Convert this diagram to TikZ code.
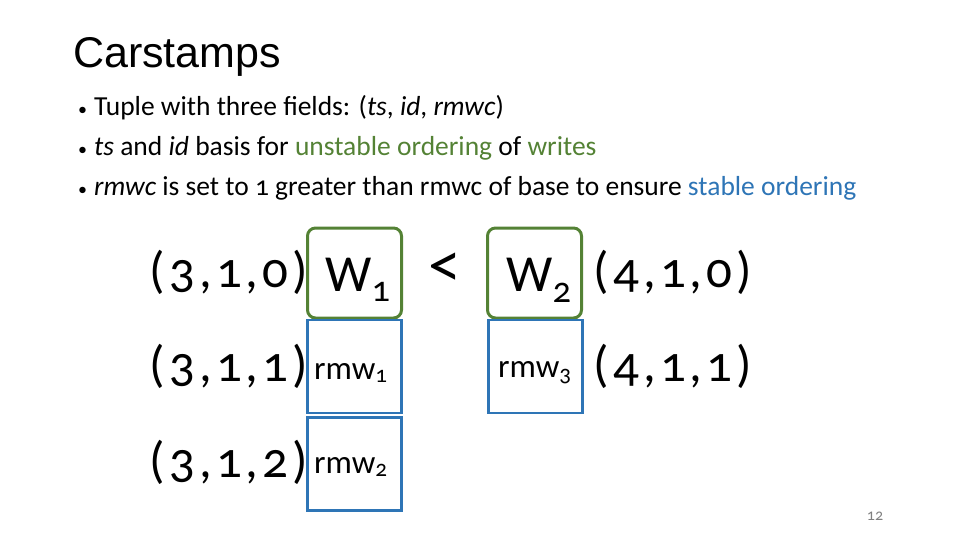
\documentclass[tikz,border=0pt]{standalone}
\usepackage{fontspec}
\setmainfont{Carlito}[Numbers=OldStyle]
\newfontfamily\titlefont{Liberation Sans}
\newfontfamily\tupfont{Carlito}[Numbers=OldStyle,LetterSpace=8]
\definecolor{gr}{HTML}{548235}
\definecolor{bl}{HTML}{2E75B6}
\newcommand{\bdot}{{\fontsize{18}{20}\selectfont•}\hspace{7pt}}
\begin{document}
\begin{tikzpicture}[x=1pt,y=-1pt,
  bul/.style={anchor=base west,font=\fontsize{27.5}{30}\selectfont,inner sep=0},
  tup/.style={anchor=center,font=\tupfont\fontsize{51}{53}\selectfont,inner sep=0},
  gbox/.style={draw=gr,line width=3pt,rounded corners=8pt,minimum width=94pt,minimum height=90pt,inner sep=0},
  bbox/.style={draw=bl,line width=2.5pt,minimum width=94pt,minimum height=93pt,inner sep=0},
  wtxt/.style={font=\fontsize{52}{54}\selectfont,anchor=center,inner sep=0},
  rtxt/.style={font=\fontsize{33}{35}\selectfont,anchor=west,inner sep=0}]
\useasboundingbox (0,0) rectangle (960,540);
\node[anchor=base west,inner sep=0,font=\titlefont\fontsize{43}{45}\selectfont] (title) at (73,68) {Carstamps};
\node[bul] (b1) at (78,116) {\bdot Tuple with three fields: (\textit{ts}, \textit{id}, \textit{rmwc})};
\node[bul] (b2) at (78,156) {\bdot\textit{ts} and \textit{id} basis for \textcolor{gr}{unstable ordering} of \textcolor{gr}{writes}};
\node[bul] (b3) at (78,196) {\bdot\textit{rmwc} is set to 1 greater than rmwc of base to ensure \textcolor{bl}{stable ordering}};
\node[gbox] (w1) at (354.5,273) {};
\node[gbox] (w2) at (534.5,273) {};
\node[bbox] (r1) at (354.5,366.5) {};
\node[bbox] (r2) at (354.5,464) {};
\node[bbox] (r3) at (535.5,366.5) {};
\node[wtxt] (w1t) at (358,280) {W\textsubscript{1}};
\node[wtxt] (w2t) at (539,280) {W\textsubscript{2}};
\node[anchor=center,inner sep=0,font=\fontsize{66}{68}\selectfont] (lt) at (445,270) {<};
\node[rtxt] (r1t) at (314,373) {rmw\textsubscript{1}};
\node[rtxt] (r2t) at (314,467) {rmw\textsubscript{2}};
\node[rtxt] (r3t) at (498,373) {rmw\textsubscript{3}};
\node[tup] (a) at (229,272) {(3,1,0)};
\node[tup] (b) at (229,366) {(3,1,1)};
\node[tup] (c) at (229,462) {(3,1,2)};
\node[tup] (d) at (673,272) {(4,1,0)};
\node[tup] (e) at (673,366) {(4,1,1)};
\node[anchor=center,inner sep=0,text=gray,font=\fontsize{16}{18}\selectfont] (pg) at (875,516) {12};
\end{tikzpicture}
\end{document}
